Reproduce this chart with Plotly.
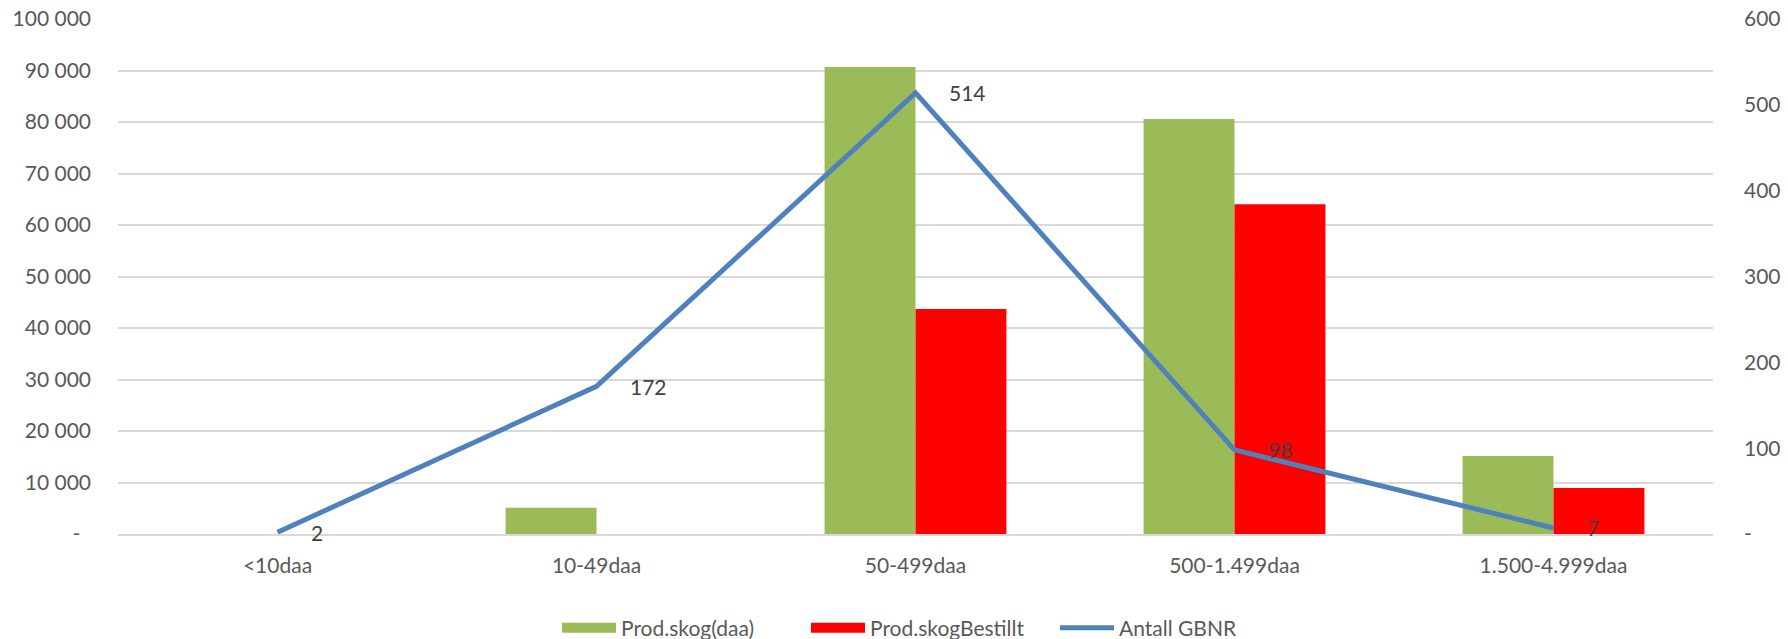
import plotly.graph_objects as go

categories = ["<10daa", "10-49daa", "50-499daa", "500-1.499daa", "1.500-4.999daa"]
prod_skog = [0, 5100, 90700, 80600, 15150]
prod_skog_bestillt = [0, 0, 43700, 64050, 8950]
antall_gbnr = [2, 172, 514, 98, 7]

left_ticks = [0, 10000, 20000, 30000, 40000, 50000, 60000, 70000, 80000, 90000, 100000]
right_ticks = [0, 100, 200, 300, 400, 500, 600]

series_names = ["Prod.skog(daa)", "Prod.skogBestillt", "Antall GBNR"]
series_colors = ["#9BBB59", "#FF0000", "#4F81BD"]


def fmt_left(v):
    return "-\u00a0\u00a0" if v == 0 else f"{v:,}".replace(",", " ")


def fmt_right(v):
    return "-" if v == 0 else str(v)


FONT = "Lato"
GRAY = "#595959"

fig = go.Figure()
fig.add_trace(go.Bar(x=categories, y=prod_skog, name=series_names[0], showlegend=False,
                     marker=dict(color=series_colors[0], line=dict(width=0))))
fig.add_trace(go.Bar(x=categories, y=prod_skog_bestillt, name=series_names[1], showlegend=False,
                     marker=dict(color=series_colors[1], line=dict(width=0))))
fig.add_trace(go.Scatter(x=categories, y=antall_gbnr, name=series_names[2], mode="lines",
                         showlegend=False,
                         line=dict(color=series_colors[2], width=5), yaxis="y2"))

# legend entries (wide rectangles for the bars, a line for the line series)
for name, color, w in zip(series_names, series_colors, [14, 14, 5]):
    fig.add_trace(go.Scatter(x=[None], y=[None], mode="lines", name=name,
                             line=dict(color=color, width=w), hoverinfo="skip"))

for c, v in zip(categories, antall_gbnr):
    fig.add_annotation(x=c, y=v, xref="x", yref="y2", text=str(v), showarrow=False,
                       xanchor="left", yanchor="middle", xshift=31,
                       font=dict(family=FONT, size=21, color="#404040"))

fig.update_layout(
    width=1788, height=639,
    margin=dict(l=118, r=75, t=19, b=105, autoexpand=False),
    paper_bgcolor="white", plot_bgcolor="white",
    barmode="group", bargap=0.43, bargroupgap=0,
    font=dict(family=FONT, size=21, color=GRAY),
    showlegend=True,
    legend=dict(orientation="h", x=(557 - 118) / 1595, xanchor="left",
                y=-94 / 515, yanchor="middle",
                font=dict(family=FONT, size=21, color=GRAY), traceorder="normal",
                itemwidth=54, entrywidthmode="pixels", entrywidth=180),
    xaxis=dict(showgrid=False, showline=True, linecolor="#D9D9D9", linewidth=1.5,
               ticks="", tickfont=dict(family=FONT, size=21, color=GRAY),
               ticklabelstandoff=12),
    yaxis=dict(range=[0, 100000], tickvals=left_ticks,
               ticktext=[fmt_left(v) for v in left_ticks],
               showgrid=True, gridcolor="#D9D9D9", gridwidth=1.5,
               zeroline=False, showline=False, ticks="",
               tickfont=dict(family=FONT, size=21, color=GRAY),
               ticklabelstandoff=26),
    yaxis2=dict(range=[0, 600], tickvals=right_ticks,
                ticktext=[fmt_right(v) for v in right_ticks],
                overlaying="y", side="right", showgrid=False, zeroline=False,
                showline=False, ticks="",
                tickfont=dict(family=FONT, size=21, color=GRAY),
                ticklabelstandoff=30),
)

fig.write_html("out.html", config={"displayModeBar": False},
               post_script="document.body.style.margin='0';document.body.style.overflow='hidden';")
